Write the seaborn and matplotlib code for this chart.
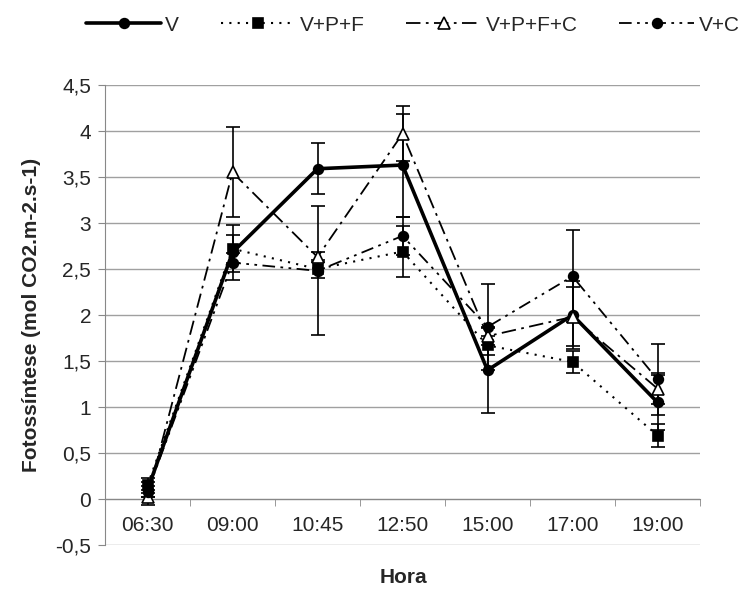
import numpy as np
import pandas as pd
import matplotlib
matplotlib.use("Agg")
import matplotlib.pyplot as plt
import seaborn as sns

categories = ["06:30", "09:00", "10:45", "12:50", "15:00", "17:00", "19:00"]
V = [0.10, 2.68, 3.59, 3.63, 1.40, 2.00, 1.05]
V_err = [0.08, 0.30, 0.28, 0.56, 0.46, 0.37, 0.30]
VPF = [0.15, 2.72, 2.50, 2.69, 1.67, 1.49, 0.69]
VPF_err = [0.08, 0.15, 0.10, 0.28, 0.10, 0.12, 0.12]
VPFC = [0.02, 3.55, 2.63, 3.97, 1.77, 1.98, 1.20]
VPFC_err = [0.08, 0.49, 0.05, 0.30, 0.10, 0.32, 0.17]
VC = [0.08, 2.57, 2.48, 2.86, 1.87, 2.42, 1.30]
VC_err = [0.06, 0.10, 0.70, 0.21, 0.47, 0.50, 0.39]
series_names = ["V", "V+P+F", "V+P+F+C", "V+C"]
yticks = [-0.5, 0, 0.5, 1, 1.5, 2, 2.5, 3, 3.5, 4, 4.5]

sns.set_style("white")
plt.rcParams["font.family"] = ["Liberation Sans", "DejaVu Sans"]
FS = 15

fig = plt.figure(figsize=(7.41, 5.97), dpi=100)
ax = fig.add_axes([0.1417, 0.0871, 0.803, 0.7705])

x = np.arange(len(categories))
styles = [
    dict(data=V, err=V_err, marker="o", ls="-", lw=2.6, ms=7, mfc="black"),
    dict(data=VPF, err=VPF_err, marker="s", ls=(0, (1, 3)), lw=1.5, ms=7, mfc="black"),
    dict(data=VPFC, err=VPFC_err, marker="^", ls=(0, (8, 3, 1.5, 3)), lw=1.3, ms=8, mfc="white"),
    dict(data=VC, err=VC_err, marker="o", ls=(0, (7, 3, 1.5, 3, 1.5, 3)), lw=1.3, ms=7, mfc="black"),
]

for name, st in zip(series_names, styles):
    ax.errorbar(x, st["data"], yerr=st["err"], fmt="none", ecolor="black",
                elinewidth=1.2, capsize=5, capthick=1.2, zorder=2)
for name, st in zip(series_names, styles):
    df = pd.DataFrame({"x": x, "y": st["data"]})
    sns.lineplot(data=df, x="x", y="y", ax=ax, color="black", marker=st["marker"],
                 linestyle=st["ls"], linewidth=st["lw"], markersize=st["ms"],
                 markerfacecolor=st["mfc"], markeredgecolor="black", markeredgewidth=1.2,
                 label=name, legend=False, zorder=3)

ax.set_xlim(-0.5, len(categories) - 0.5)
ax.set_ylim(-0.5, 4.5)
ax.set_yticks(yticks)
ax.set_yticklabels([("%g" % t).replace(".", ",") for t in yticks])
ax.set_xticks(x)
ax.set_xticklabels(categories)
ax.set_xticks(np.arange(-0.5, len(categories), 1.0), minor=True)

ax.grid(axis="y", color="#a0a0a0", linewidth=1.0)
ax.grid(axis="x", visible=False)
for s in ["top", "right"]:
    ax.spines[s].set_visible(False)
ax.spines["left"].set_color("#888888")
ax.spines["bottom"].set_color("#888888")
ax.spines["bottom"].set_position(("data", 0))
ax.tick_params(axis="y", which="major", direction="out", length=5, color="#888888",
               left=True, pad=5, labelsize=FS)
ax.tick_params(axis="x", which="major", length=0, pad=12, labelsize=FS)
ax.tick_params(axis="x", which="minor", direction="out", length=5, color="#888888", bottom=True)

ax.set_ylabel("Fotossíntese (mol CO2.m-2.s-1)", fontsize=FS, fontweight="bold", labelpad=10)
fig.text(0.545, 0.033, "Hora", ha="center", va="center", fontsize=FS, fontweight="bold")
ax.set_xlabel("")

h, l = ax.get_legend_handles_labels()
fig.legend(h, l, loc="upper center", bbox_to_anchor=(0.557, 1.005), ncol=4, frameon=False,
           fontsize=FS, handlelength=3.6, columnspacing=2.0, handletextpad=0.2, numpoints=1)

fig.savefig("out.png", dpi=100)
